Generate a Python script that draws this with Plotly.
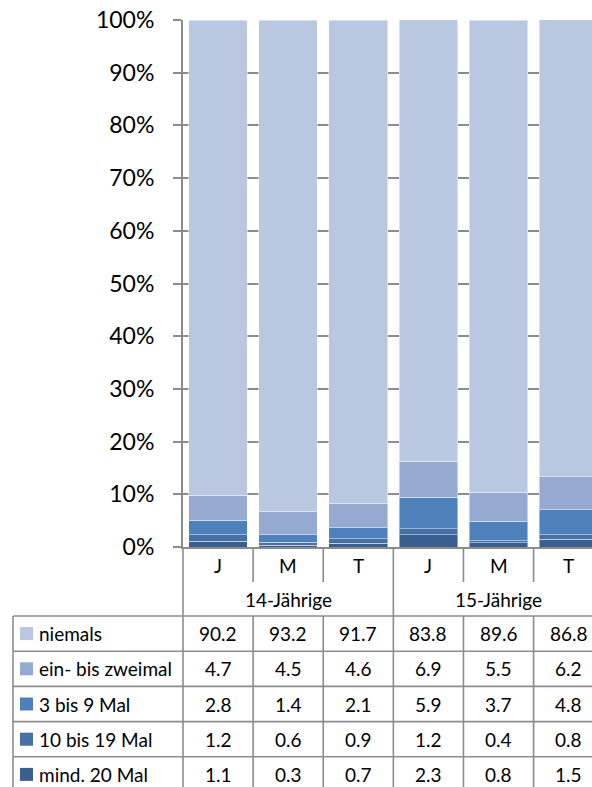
import plotly.graph_objects as go

# Categories: age groups and sex (J = Jungen, M = Mädchen, T = Total)
groups = ["14-Jährige", "15-Jährige"]
sexes = ["J", "M", "T"]

# Series, listed top row of the table first
series_names = ["niemals", "ein- bis zweimal", "3 bis 9 Mal", "10 bis 19 Mal", "mind. 20 Mal"]
niemals = [90.2, 93.2, 91.7, 83.8, 89.6, 86.8]
ein_bis_zweimal = [4.7, 4.5, 4.6, 6.9, 5.5, 6.2]
drei_bis_neun = [2.8, 1.4, 2.1, 5.9, 3.7, 4.8]
zehn_bis_19 = [1.2, 0.6, 0.9, 1.2, 0.4, 0.8]
mind_20 = [1.1, 0.3, 0.7, 2.3, 0.8, 1.5]
series_values = [niemals, ein_bis_zweimal, drei_bis_neun, zehn_bis_19, mind_20]
colors = ["#BAC7E0", "#95A9D1", "#4E80BC", "#4670A6", "#3A5E8D"]

y_ticks = [0, 10, 20, 30, 40, 50, 60, 70, 80, 90, 100]

FONT = "Lato, 'Open Sans', sans-serif"
GRID = "#8c8c8c"
TEXT_SIZE = 19

# plot area geometry (pixels)
W, H = 592, 787
L, R, T, B = 183, 592, 20, 547
X_RANGE = [-0.5, 5.333]

n = len(groups) * len(sexes)
xs = list(range(n))


def xp(xd):
    return (xd - X_RANGE[0]) / (X_RANGE[1] - X_RANGE[0])


def xpix(px):
    return (px - L) / (R - L)


def ypix(py):
    return (B - py) / (B - T)


def label(x, y, text, xanchor="center"):
    return dict(x=x, y=y, xref="paper", yref="paper", text=text, showarrow=False,
                xanchor=xanchor, yanchor="middle",
                font=dict(size=TEXT_SIZE, color="#000", family=FONT))


fig = go.Figure()

# stacked bars, darkest series at the bottom
for name, vals, col in reversed(list(zip(series_names, series_values, colors))):
    fig.add_trace(go.Bar(
        x=xs, y=vals, name=name,
        marker=dict(color=col, line=dict(color="rgba(255,255,255,0.45)", width=1)),
        hoverinfo="skip",
    ))

shapes = []
annotations = []
line = dict(color=GRID, width=1.6)

# category-axis separators and labels
CAT_Y = 565
GROUP_Y = 599
TABLE_TOP = 616
ROW_H = 35.2
for k in range(n + 1):
    xb = k - 0.5
    bottom = TABLE_TOP if k % len(sexes) == 0 else 582
    shapes.append(dict(type="line", xref="paper", yref="paper",
                       x0=xp(xb), x1=xp(xb), y0=ypix(B), y1=ypix(bottom), line=line))
for i, x in enumerate(xs):
    annotations.append(label(xp(x), ypix(CAT_Y), sexes[i % len(sexes)]))
for g, name in enumerate(groups):
    center = g * len(sexes) + (len(sexes) - 1) / 2
    annotations.append(label(xp(center), ypix(GROUP_Y), name))

# data table
TABLE_LEFT = 13
n_rows = len(series_names)
for r in range(n_rows + 1):
    yy = ypix(TABLE_TOP + r * ROW_H)
    shapes.append(dict(type="line", xref="paper", yref="paper",
                       x0=xpix(TABLE_LEFT), x1=xp(n + 0.5), y0=yy, y1=yy, line=line))
shapes.append(dict(type="line", xref="paper", yref="paper",
                   x0=xpix(TABLE_LEFT), x1=xpix(TABLE_LEFT),
                   y0=ypix(TABLE_TOP), y1=ypix(TABLE_TOP + n_rows * ROW_H), line=line))
for k in range(n + 1):
    xb = xp(k - 0.5)
    shapes.append(dict(type="line", xref="paper", yref="paper", x0=xb, x1=xb,
                       y0=ypix(TABLE_TOP), y1=ypix(TABLE_TOP + n_rows * ROW_H), line=line))

for r, (name, vals, col) in enumerate(zip(series_names, series_values, colors)):
    cy = TABLE_TOP + (r + 0.5) * ROW_H
    shapes.append(dict(type="rect", xref="paper", yref="paper",
                       x0=xpix(20), x1=xpix(33), y0=ypix(cy - 6.5), y1=ypix(cy + 6.5),
                       fillcolor=col, line=dict(width=0)))
    annotations.append(label(xpix(37), ypix(cy), name, xanchor="left"))
    for i, v in enumerate(vals):
        annotations.append(label(xp(xs[i]), ypix(cy), f"{v:.1f}"))

fig.update_layout(
    barmode="stack",
    bargap=0.164,
    width=W, height=H,
    margin=dict(l=L, r=W - R, t=T, b=H - B, pad=0),
    paper_bgcolor="white",
    plot_bgcolor="white",
    showlegend=False,
    shapes=shapes,
    annotations=annotations,
    font=dict(family=FONT, color="#000"),
)
fig.update_xaxes(
    range=X_RANGE, showticklabels=False, ticks="", showgrid=False,
    showline=True, linecolor=GRID, linewidth=2, zeroline=False,
)
fig.update_yaxes(
    range=[0, 100], tickvals=y_ticks, ticktext=[f"{t}%" for t in y_ticks],
    ticks="outside", ticklen=8, tickcolor=GRID, tickwidth=2,
    ticklabelstandoff=14,
    tickfont=dict(size=23, color="#000", family=FONT),
    showgrid=True, gridcolor=GRID, gridwidth=2,
    showline=True, linecolor=GRID, linewidth=2, zeroline=False,
)

fig.write_html("out.html", config={"displayModeBar": False})
